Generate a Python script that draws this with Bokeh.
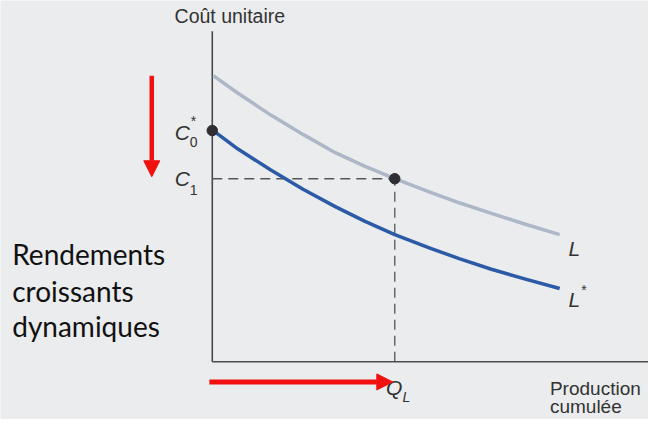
from bokeh.plotting import figure
from bokeh.models import Range1d, Arrow, NormalHead
from bokeh.core.properties import value
from bokeh.embed import file_html
from bokeh.resources import INLINE

# Schematic data (x = production cumulée, y = coût unitaire), arbitrary units
L_x = [1, 26, 60, 93, 126, 156, 187, 223, 253, 286, 320, 356]
L_y = [297, 279, 256, 236, 217, 203, 190, 176, 165, 154, 143, 132]
Ls_x = [1, 26, 60, 93, 126, 156, 187, 223, 253, 286, 320, 356]
Ls_y = [240, 221, 199, 179, 161, 146, 132, 118, 107, 96, 86, 76]
Q_L = 187
C0 = 240
C1 = 190
x_max = 447
y_max = 343

BG = "#ebeced"
FONT = value("Liberation Sans")
TXT = "#333333"

p = figure(width=648, height=419, output_backend="svg", toolbar_location=None,
           x_range=Range1d(-217, 447), y_range=Range1d(-60, 375),
           x_axis_type=None, y_axis_type=None, min_border=0)
p.grid.visible = False
p.outline_line_color = None
p.background_fill_color = BG
p.border_fill_color = BG

# axes
p.line([0, 0], [0, y_max], line_color="#4a4a4a", line_width=1.6)
p.line([0, x_max], [0, 0], line_color="#4a4a4a", line_width=1.6)

# dashed guides
p.line([0, Q_L], [C1, C1], line_color="#555555", line_width=1.5, line_dash="10 6")
p.line([Q_L, Q_L], [0, C1], line_color="#555555", line_width=1.3, line_dash="10 6")

# curves
p.line(L_x, L_y, line_color="#adb7c8", line_width=3.5, line_join="round")
p.line(Ls_x, Ls_y, line_color="#2b5aa6", line_width=3.5, line_join="round")

# points
p.scatter([0, Q_L], [C0, C1], size=10.5, fill_color="#2e2e33", line_color="#2e2e33")

# labels
def lab(x, y, t, size, italic=False, align="left"):
    p.text([x], [y], text=[t], text_font=FONT, text_font_style="italic" if italic else "normal",
           text_font_size=size, text_align=align, text_baseline="middle", text_color=TXT)

lab(-23, C0 - 2, "C", "21px", True, "right")
lab(-23, C0 - 12, "0", "14px")
lab(-22, C0 + 10, "*", "14px")
lab(-23, C1, "C", "21px", True, "right")
lab(-23, C1 - 12, "1", "14px")

lab(Q_L - 9, -27, "Q", "21px", True)
lab(Q_L + 8, -37, "L", "14px", True)

lab(365, 118, "L", "21px", True)
lab(365, 65, "L", "21px", True)
lab(378, 74, "*", "14px")

lab(18, 359, "Coût unitaire", "19.5px", False, "center")
lab(346, -28, "Production", "19px")
lab(346, -47, "cumulée", "19px")

p.text([-205, -205, -205], [112, 73, 37], text=["Rendements", "croissants", "dynamiques"],
       text_font=value("Lato"), text_font_size="28px", text_align="left",
       text_baseline="middle", text_color="#111111")

# red arrows
p.add_layout(Arrow(x_start=-62, y_start=297, x_end=-62, y_end=192, line_color="#f01010",
                   line_width=4.5,
                   end=NormalHead(size=16, fill_color="#f01010", line_color="#f01010")))
p.add_layout(Arrow(x_start=-3, y_start=-21, x_end=185, y_end=-21, line_color="#f01010",
                   line_width=5,
                   end=NormalHead(size=16, fill_color="#f01010", line_color="#f01010")))

open("out.html", "w").write(file_html(p, INLINE))
